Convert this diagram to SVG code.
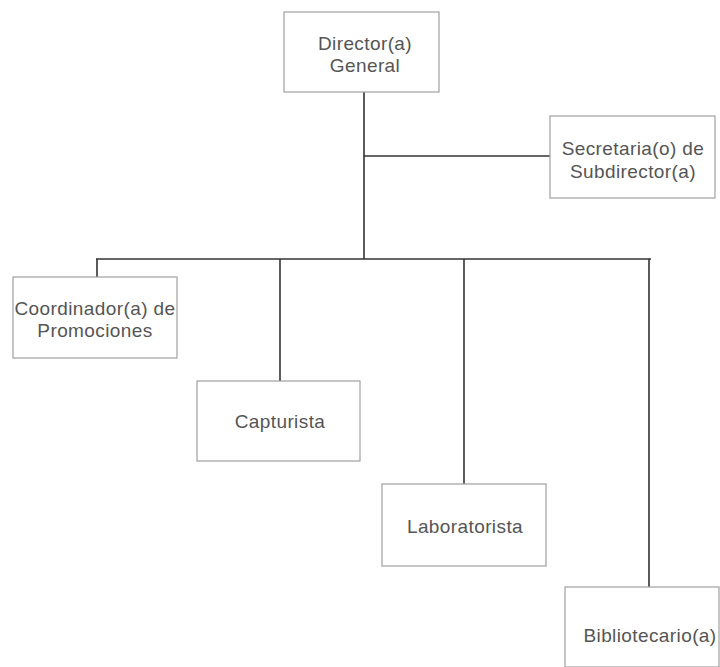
<svg xmlns="http://www.w3.org/2000/svg" width="720" height="667" viewBox="0 0 720 667">
<style>
.box{fill:#fff;stroke:#a0a0a0;stroke-width:1.2}
.t{font-family:"Liberation Sans",Arial,sans-serif;font-size:19px;letter-spacing:0.4px;fill:#555;text-anchor:middle}
.c{stroke:#333;stroke-width:1.6;fill:none}
</style>
<rect width="720" height="667" fill="#fff"/>
<g id="connectors">
<line class="c" x1="364" y1="92" x2="364" y2="259"/>
<line class="c" x1="364" y1="156" x2="550" y2="156"/>
<line class="c" x1="96" y1="259" x2="651" y2="259"/>
<line class="c" x1="97" y1="259" x2="97" y2="277"/>
<line class="c" x1="280" y1="259" x2="280" y2="381"/>
<line class="c" x1="464" y1="259" x2="464" y2="484"/>
<line class="c" x1="649" y1="259" x2="649" y2="587"/>
</g>
<g id="director">
<rect class="box" x="284" y="12" width="155" height="80"/>
<text class="t" x="365" y="50">Director(a)</text>
<text class="t" x="365" y="72">General</text>
</g>
<g id="secretaria">
<rect class="box" x="550" y="116" width="165" height="82"/>
<text class="t" x="633" y="155">Secretaria(o) de</text>
<text class="t" x="633" y="178">Subdirector(a)</text>
</g>
<g id="coordinador">
<rect class="box" x="13" y="277" width="164" height="81"/>
<text class="t" x="95" y="315">Coordinador(a) de</text>
<text class="t" x="95" y="337">Promociones</text>
</g>
<g id="capturista">
<rect class="box" x="197" y="381" width="163" height="80"/>
<text class="t" x="280" y="428">Capturista</text>
</g>
<g id="laboratorista">
<rect class="box" x="382" y="484" width="164" height="82"/>
<text class="t" x="465" y="533">Laboratorista</text>
</g>
<g id="bibliotecario">
<rect class="box" x="565" y="587" width="154" height="80"/>
<text class="t" x="650" y="642">Bibliotecario(a)</text>
</g>
</svg>
